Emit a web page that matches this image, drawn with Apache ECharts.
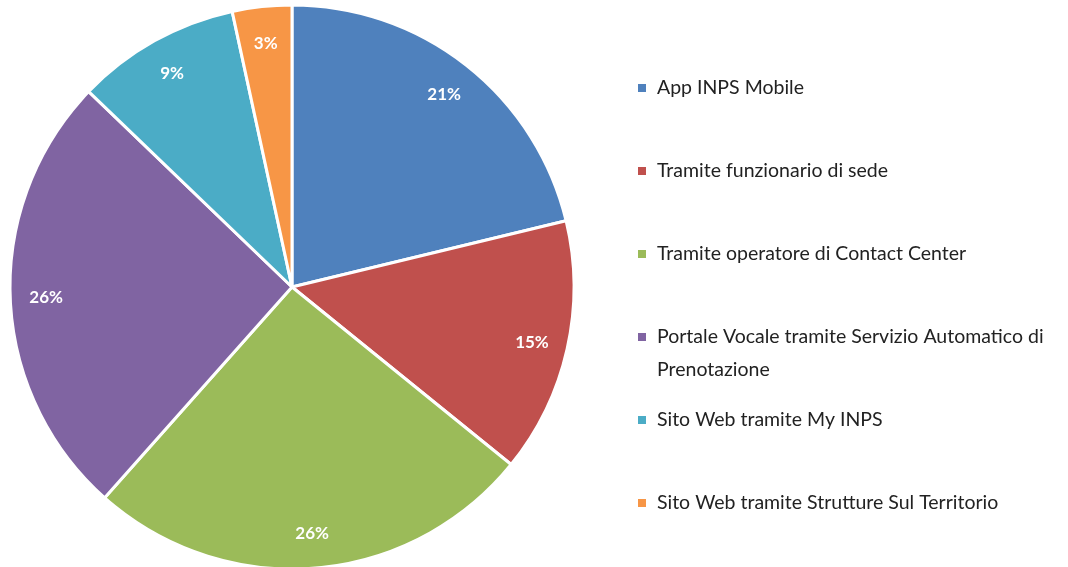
<!DOCTYPE html>
<html>
<head>
<meta charset="utf-8">
<script src="https://cdn.jsdelivr.net/npm/echarts@6/dist/echarts.min.js"></script>
<style>
html,body{margin:0;padding:0;background:#fff;}
#chart{width:1068px;height:567px;}
</style>
</head>
<body>
<div id="chart"></div>
<script>
const categories = [
  'App INPS Mobile',
  'Tramite funzionario di sede',
  'Tramite operatore di Contact Center',
  'Portale Vocale tramite Servizio Automatico di Prenotazione',
  'Sito Web tramite My INPS',
  'Sito Web tramite Strutture Sul Territorio'
];
// legend text split into first line and continuation line
const legendLine1 = [
  'App INPS Mobile',
  'Tramite funzionario di sede',
  'Tramite operatore di Contact Center',
  'Portale Vocale tramite Servizio Automatico di',
  'Sito Web tramite My INPS',
  'Sito Web tramite Strutture Sul Territorio'
];
const legendLine2 = ['', '', '', 'Prenotazione', '', ''];
const values = [21.2, 14.6, 25.7, 25.6, 9.4, 3.4];
const colors = ['#4F81BD', '#C0504D', '#9BBB59', '#8064A2', '#4BACC6', '#F79646'];
const legendTops = [87, 170, 253, 336, 419, 502];

const FONT = 'Lato, "Open Sans", sans-serif';
const LEG_FS = 19.5;
const data = categories.map((c, i) => ({ name: c, value: values[i], itemStyle: { color: colors[i] } }));

const chart = echarts.init(document.getElementById('chart'), null, { renderer: 'canvas' });
chart.setOption({
  animation: false,
  color: colors,
  legend: categories.map((c, i) => ({
    data: [c],
    left: 631,
    top: legendTops[i] - 20.5,
    orient: 'vertical',
    icon: 'rect',
    itemWidth: 10,
    itemHeight: 10,
    itemGap: 0,
    selectedMode: false,
    formatter: () => legendLine1[i],
    textStyle: { fontFamily: FONT, fontSize: LEG_FS, color: '#222', lineHeight: 33, padding: [0, 0, 0, 5] }
  })),
  graphic: legendLine2.map((t, i) => t ? {
    type: 'text',
    left: 657,
    top: legendTops[i] + 33 - 15.5,
    style: { text: t, fontFamily: FONT, fontSize: LEG_FS, fill: '#222', lineHeight: 33, verticalAlign: 'top' }
  } : null).filter(Boolean),
  series: [
    {
      type: 'pie',
      center: [292, 287],
      radius: [0, 282],
      startAngle: 90,
      clockwise: true,
      data: data,
      itemStyle: { borderColor: '#fff', borderWidth: 3 },
      label: { show: false },
      labelLine: { show: false },
      silent: true
    },
    {
      type: 'pie',
      center: [292, 288],
      radius: [204, 282],
      startAngle: 90,
      clockwise: true,
      data: data.map(d => ({ name: d.name, value: d.value })),
      itemStyle: { color: 'rgba(0,0,0,0)', borderWidth: 0 },
      label: {
        show: true,
        position: 'inside',
        formatter: p => Math.round(p.percent) + '%',
        color: '#fff',
        fontWeight: 'bold',
        fontSize: 17,
        fontFamily: FONT
      },
      labelLine: { show: false },
      silent: true,
      emphasis: { disabled: true }
    }
  ]
});
</script>
</body>
</html>
